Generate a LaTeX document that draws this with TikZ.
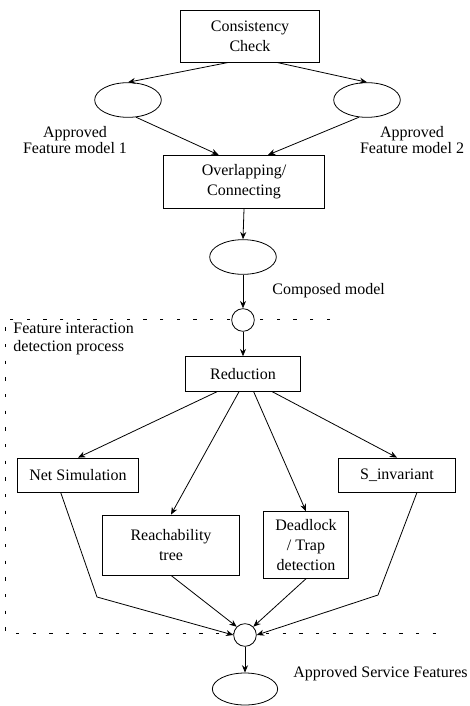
\documentclass[tikz,border=0pt]{standalone}
\usepackage{fontspec}
\setmainfont{Liberation Serif}
\usetikzlibrary{shapes.geometric,arrows.meta}

\begin{document}
\begin{tikzpicture}[x=0.75pt,y=-0.75pt,line width=0.6pt,
  box/.style={draw,rectangle,align=center,inner sep=1pt,font=\fontsize{12}{15}\selectfont},
  model/.style={draw,ellipse,minimum width=50pt,minimum height=26pt,inner sep=0pt},
  junc/.style={draw,circle,fill=white,minimum size=17pt,inner sep=0pt},
  lbl/.style={font=\fontsize{12}{11.5}\selectfont,align=center,inner sep=0pt},
  arr/.style={-{Stealth[length=5.5pt,width=4.5pt]}},
  region/.style={dash pattern=on 2.5pt off 10pt}]
\useasboundingbox (0,0) rectangle (470,706);
%Drawing region
\draw[region] (330,319) -- (5,319) -- (5,633) -- (440,633);
\node[box,minimum width=104pt,minimum height=39pt] (cc) at (250,36) {Consistency\\Check};
\node[model] (fm1) at (128,100) {};
\node[model] (fm2) at (367,100) {};
\node[lbl] (fm1l) at (75,140) {Approved\\Feature model 1};
\node[lbl] (fm2l) at (412,140) {Approved\\Feature model 2};
\node[box,minimum width=121pt,minimum height=40pt] (ov) at (244,182) {Overlapping/\\Connecting};
\node[model] (comp) at (243,257) {};
\node[lbl,anchor=west] (compl) at (272,291) {Composed model};
\node[junc] (j1) at (243,320) {};
\node[lbl,anchor=west,align=left,font=\fontsize{12}{13.5}\selectfont] (fidl) at (13,339) {Feature interaction\\detection process};
\node[box,minimum width=86pt,minimum height=26pt] (red) at (243,374) {Reduction};
\node[box,minimum width=91pt,minimum height=25.5pt] (net) at (78,475) {Net Simulation};
\node[box,minimum width=103pt,minimum height=45pt] (reach) at (171,545) {Reachability\\tree};
\node[box,minimum width=64pt,minimum height=50pt] (dead) at (306,545) {Deadlock\\/ Trap\\detection};
\node[box,minimum width=88pt,minimum height=25.5pt] (inv) at (397,475) {S\_invariant};
\node[junc] (j2) at (245,635) {};
\node[model,minimum width=49pt,minimum height=24pt] (asf) at (245,689) {};
\node[lbl,anchor=west] (asfl) at (293,674) {Approved Service Features};
\coordinate (nb) at (97,597);
\coordinate (ib) at (378,595);
%Drawing arrows
\draw[arr] ([xshift=-16pt]cc.south) -- (fm1.north);
\draw[arr] ([xshift=20pt]cc.south) -- (fm2.north);
\draw[arr] (fm1.-65) -- ([xshift=-19pt]ov.north);
\draw[arr] (fm2.-115) -- ([xshift=18pt]ov.north);
\draw[arr] (ov.south) -- (comp.north);
\draw[arr] (comp.south) -- (j1.north);
\draw[arr] (j1.south) -- (red.north);
\draw[arr] ([xshift=-19.5pt]red.south) -- (net.north);
\draw[arr] ([xshift=-3pt]red.south) -- (reach.north);
\draw[arr] ([xshift=8pt]red.south) -- (dead.north);
\draw[arr] ([xshift=22pt]red.south) -- (inv.north);
\draw[arr] ([xshift=-13pt]net.south) -- (nb) -- (j2.west);
\draw[arr] (reach.south) -- (j2.135);
\draw[arr] (dead.south) -- (j2.45);
\draw[arr] ([xshift=15pt]inv.south) -- (ib) -- (j2.east);
\draw[arr] (j2.south) -- (asf.north);
\end{tikzpicture}
\end{document}
